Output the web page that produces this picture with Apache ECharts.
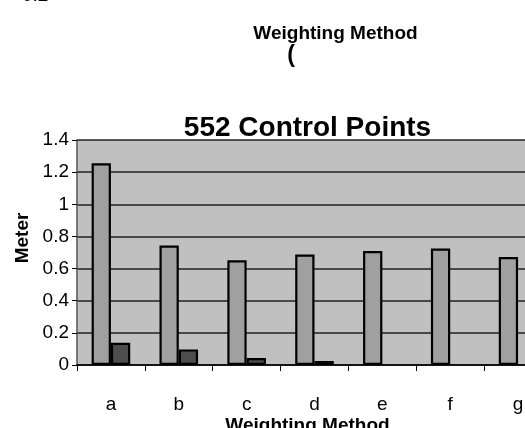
<!DOCTYPE html>
<html>
<head>
<meta charset="utf-8">
<script src="https://cdn.jsdelivr.net/npm/echarts@6/dist/echarts.min.js"></script>
<style>html,body{margin:0;padding:0;background:#fff;overflow:hidden;}#main{width:560px;height:428px;}</style>
</head>
<body>
<div id="main"></div>
<script>
var categories = ['a', 'b', 'c', 'd', 'e', 'f', 'g'];
var seriesLight = [1.255, 0.744, 0.651, 0.688, 0.709, 0.725, 0.672];
var seriesDark = [0.138, 0.097, 0.043, 0.025, null, null, null];
var yTicks = [0, 0.2, 0.4, 0.6, 0.8, 1, 1.2, 1.4];
var titleText = '552 Control Points';
var xName = 'Weighting Method';
var yName = 'Meter';

var FONT = 'Liberation Sans, Arial, sans-serif';
var chart = echarts.init(document.getElementById('main'));
chart.setOption({
  animation: false,
  backgroundColor: '#ffffff',
  grid: { left: 77, top: 140, width: 475, height: 225, show: true, backgroundColor: '#c0c0c0', borderWidth: 0 },
  xAxis: {
    type: 'category',
    data: categories,
    axisLine: { lineStyle: { color: '#000', width: 1.5 } },
    axisTick: { show: true, length: 6, lineStyle: { color: '#000', width: 1 } },
    axisLabel: { fontFamily: FONT, fontSize: 19, color: '#000', margin: 30 }
  },
  yAxis: {
    type: 'value',
    min: yTicks[0], max: yTicks[yTicks.length - 1], interval: 0.2,
    axisLine: { show: true, lineStyle: { color: '#555', width: 1.5 } },
    axisTick: { show: true, length: 5, lineStyle: { color: '#000', width: 1 } },
    axisLabel: {
      fontFamily: FONT, fontSize: 19, color: '#000', margin: 8,
      formatter: function (v) { return String(Math.round(v * 10) / 10); }
    },
    splitLine: { show: true, lineStyle: { color: '#222', width: 1.5 } }
  },
  series: [
    {
      type: 'bar', data: seriesLight, barWidth: 19.3, barGap: '0%',
      itemStyle: { color: '#a0a0a0', borderColor: '#000', borderWidth: 2.2 }
    },
    {
      type: 'bar', data: seriesDark, barWidth: 19.3, barGap: '0%',
      itemStyle: { color: '#4d4d4d', borderColor: '#000', borderWidth: 2.2 }
    }
  ],
  graphic: [
    { type: 'text', x: 307.5, y: 142, style: { text: titleText, font: 'bold 28px ' + FONT, fill: '#000', align: 'center', verticalAlign: 'bottom' } },
    { type: 'text', left: 22, top: -14, style: { text: '0.2', font: '19px ' + FONT, fill: '#000' } },
    { type: 'text', x: 335.5, y: 34, style: { text: xName, font: 'bold 19px ' + FONT, fill: '#000', align: 'center', verticalAlign: 'middle' } },
    { type: 'text', x: 291, y: 56, style: { text: '(', font: 'bold 23px ' + FONT, fill: '#000', align: 'center', verticalAlign: 'middle' } },
    { type: 'text', x: 307.5, y: 426, style: { text: xName, font: 'bold 19px ' + FONT, fill: '#000', align: 'center', verticalAlign: 'middle' } },
    { type: 'text', x: 23, y: 238, rotation: Math.PI / 2, style: { text: yName, font: 'bold 19px ' + FONT, fill: '#000', align: 'center', verticalAlign: 'middle' } }
  ]
});
</script>
</body>
</html>
